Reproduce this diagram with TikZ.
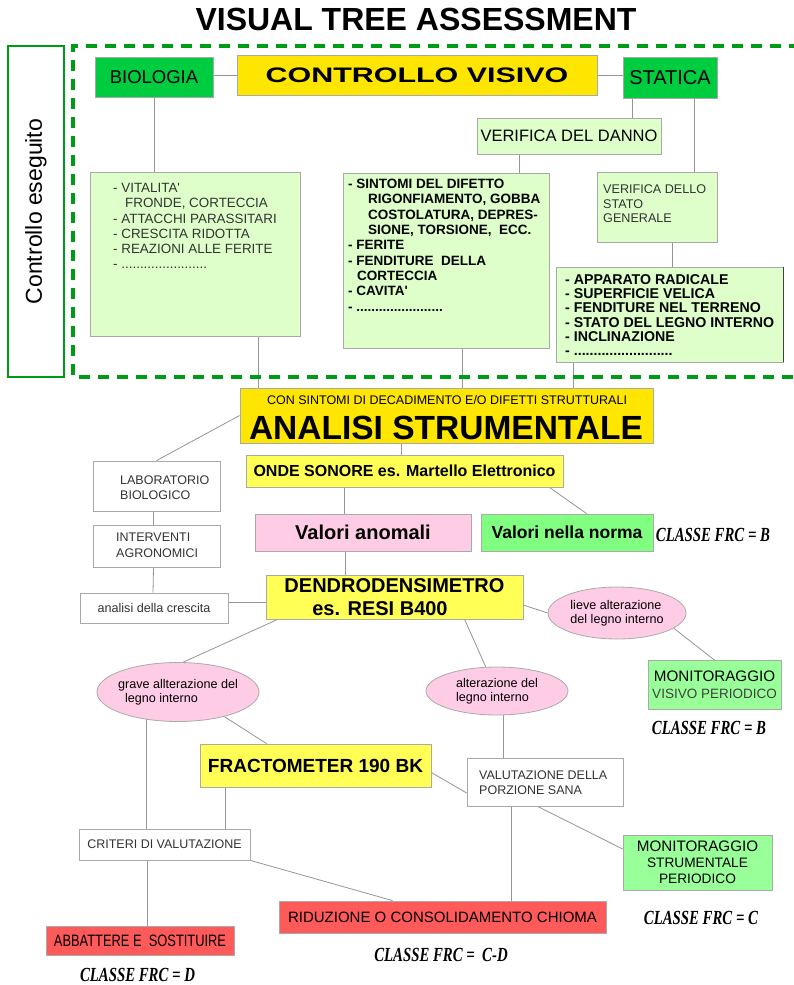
\documentclass[tikz,border=0pt]{standalone}
\usepackage{fontspec}
\setmainfont{Liberation Sans}
\newfontfamily\frcfont[FakeStretch=0.74]{Liberation Serif}
\newfontfamily\widefont[FakeStretch=1.45]{Liberation Sans}
\newfontfamily\narrowfont[FakeStretch=0.78]{Liberation Sans}
\usetikzlibrary{shapes.geometric,backgrounds}

\definecolor{ctrlgreen}{RGB}{0,155,20}
\definecolor{biogreen}{RGB}{0,204,64}
\definecolor{visyellow}{RGB}{255,230,0}
\definecolor{lightgreen}{RGB}{222,255,202}
\definecolor{ylw}{RGB}{255,255,85}
\definecolor{pinkfill}{RGB}{255,204,230}
\definecolor{normgreen}{RGB}{128,255,128}
\definecolor{mongreen}{RGB}{153,255,153}
\definecolor{redbox}{RGB}{255,90,90}
\definecolor{boxgray}{RGB}{170,170,170}
\definecolor{linegray}{RGB}{150,150,150}

\newcommand{\fsz}[2]{\fontsize{#1}{#2}\selectfont}

\begin{document}
\begin{tikzpicture}[x=1pt, y=-1pt,
    box/.style={draw=boxgray, line width=0.8pt, inner sep=0pt},
    oval/.style={ellipse, draw=boxgray, line width=0.8pt, fill=pinkfill, inner sep=0pt, align=left, font=\fsz{12.6}{14.5}},
    txt/.style={inner sep=0pt, anchor=north west, align=left},
    conn/.style={draw=linegray, line width=0.8pt},
    frc/.style={font=\frcfont\bfseries\itshape\fsz{20}{20}, inner sep=0pt}]
\useasboundingbox (0,0) rectangle (794,985);

\node[font=\bfseries\fsz{32}{32}] (title) at (416,19) {VISUAL TREE ASSESSMENT};

% controllo visivo
\node[box, draw=ctrlgreen, line width=2.2pt, minimum width=56pt, minimum height=331pt] (ctrl) at (36,211.5) {};
\node[rotate=90, font=\fsz{23}{23}] (ctrltxt) at (ctrl.center) {Controllo eseguito};
\draw[ctrlgreen, line width=3.5pt, dash pattern=on 11pt off 8pt] (800,46) -- (73,46) -- (73,377) -- (800,377);

\node[box, fill=biogreen, minimum width=118pt, minimum height=40pt, font=\fsz{18.5}{18.5}] (bio) at (154,77) {BIOLOGIA};
\node[box, fill=visyellow, minimum width=360pt, minimum height=40pt, font=\widefont\bfseries\fsz{21}{21}] (visivo) at (417,75) {CONTROLLO VISIVO};
\node[box, fill=biogreen, minimum width=94pt, minimum height=41pt, font=\fsz{20}{20}] (stat) at (670,77.5) {STATICA};
\node[box, fill=lightgreen, minimum width=184pt, minimum height=36pt, font=\fsz{16.5}{16.5}] (danno) at (569,136) {VERIFICA DEL DANNO};

\node[box, fill=lightgreen, minimum width=210pt, minimum height=164pt] (biolist) at (195,254) {};
\node[txt, font=\fsz{13.4}{15.3}, text=black!80] (biotxt) at (113,183)
  {- VITALITA\textquotesingle\\\hspace*{12pt}FRONDE, CORTECCIA\\- ATTACCHI PARASSITARI\\- CRESCITA RIDOTTA\\- REAZIONI ALLE FERITE\\- .......................};
\node[box, fill=lightgreen, minimum width=206pt, minimum height=175pt] (dannolist) at (446,260.5) {};
\node[txt, font=\bfseries\fsz{13.5}{15.3}] (dannotxt) at (348,179)
  {- SINTOMI DEL DIFETTO\\\hspace*{20pt}RIGONFIAMENTO, GOBBA\\\hspace*{20pt}COSTOLATURA, DEPRES-\\\hspace*{20pt}SIONE, TORSIONE,\ \ ECC.\\- FERITE\\- FENDITURE\ \ DELLA\\\hspace*{9pt}CORTECCIA\\- CAVITA\textquotesingle\\- .......................};
\node[box, fill=lightgreen, minimum width=120pt, minimum height=70pt] (stato) at (657,207) {};
\node[txt, font=\fsz{12.6}{14.5}, text=black!80] (statotxt) at (603,184.5) {VERIFICA DELLO\\STATO\\GENERALE};
\node[box, fill=lightgreen, minimum width=227pt, minimum height=95pt] (statolist) at (669.5,314.5) {};
\draw[black!75, line width=1.6pt] (statolist.north east) -- (statolist.south east);
\node[txt, font=\bfseries\fsz{14.2}{14.3}] (statolisttxt) at (565,274)
  {- APPARATO RADICALE\\- SUPERFICIE VELICA\\- FENDITURE NEL TERRENO\\- STATO DEL LEGNO INTERNO\\- INCLINAZIONE\\- .........................};

% analisi strumentale
\node[box, fill=visyellow, minimum width=413pt, minimum height=55pt] (analisi) at (446.5,415.5) {};
\node[font=\fsz{12.5}{12.5}, inner sep=0pt] (analisisub) at (447,400) {CON SINTOMI DI DECADIMENTO E/O DIFETTI STRUTTURALI};
\node[font=\bfseries\fsz{33.5}{33.5}, inner sep=0pt] (analisitxt) at (446,428) {ANALISI STRUMENTALE};

\node[box, fill=white, minimum width=127pt, minimum height=50pt] (lab) at (156.5,486) {};
\node[txt, anchor=west, font=\fsz{12.5}{15}, text=black!80] (labtxt) at (120,487.5) {LABORATORIO\\BIOLOGICO};
\node[box, fill=white, minimum width=127pt, minimum height=42pt] (interv) at (156.5,546) {};
\node[txt, anchor=west, font=\fsz{12.5}{16}, text=black!80] (intervtxt) at (116,545) {INTERVENTI\\AGRONOMICI};
\node[box, fill=white, minimum width=148pt, minimum height=30pt, font=\fsz{12.6}{12.6}, text=black!80] (cresc) at (154,608) {analisi della crescita};

\node[box, fill=ylw, minimum width=317pt, minimum height=32pt, font=\bfseries\fsz{16}{16}] (onde) at (404.5,471) {ONDE SONORE es. Martello Elettronico};
\node[box, fill=pinkfill, minimum width=216pt, minimum height=37pt, font=\bfseries\fsz{20}{20}] (anom) at (363,532.5) {Valori anomali};
\node[box, fill=normgreen, minimum width=172pt, minimum height=37pt, font=\bfseries\fsz{17.5}{17.5}] (norma) at (567,532.5) {Valori nella norma};
\node[box, fill=ylw, minimum width=257pt, minimum height=44pt, align=center, font=\bfseries\fsz{20}{22.5}] (dendro) at (394.5,597) {DENDRODENSIMETRO\\es. RESI B400\hspace*{29pt}};

\node[oval, minimum width=138pt, minimum height=52pt] (lieve) at (617,613) {lieve alterazione\\del legno interno};
\node[box, fill=mongreen, minimum width=133pt, minimum height=49pt, align=center, font=\fsz{15.2}{17}] (monv) at (714.5,685) {MONITORAGGIO\\{\fsz{13.5}{17}\color{black!75}VISIVO PERIODICO}};
\node[oval, inner xsep=-3pt, minimum width=162pt, minimum height=59pt] (grave) at (178,692) {grave allterazione del\\\hspace*{7pt}legno interno};
\node[oval, minimum width=142pt, minimum height=48pt] (alter) at (497,691) {alterazione del\\legno interno};

\node[box, fill=ylw, minimum width=231pt, minimum height=43pt, font=\bfseries\fsz{19}{19}] (fract) at (315.5,765.5) {FRACTOMETER 190 BK};
\node[box, fill=white, minimum width=156pt, minimum height=48pt] (valut) at (545,782) {};
\node[txt, anchor=west, font=\fsz{12.5}{15}, text=black!80] (valuttxt) at (479,782.5) {VALUTAZIONE DELLA\\PORZIONE SANA};
\node[box, fill=white, minimum width=171pt, minimum height=31pt, font=\fsz{12.5}{12.5}, text=black!80] (crit) at (164.5,844.5) {CRITERI DI VALUTAZIONE};
\node[box, fill=mongreen, minimum width=149pt, minimum height=55pt, align=center, font=\fsz{15.2}{16}] (mons) at (697.5,862.5) {MONITORAGGIO\\{\fsz{13.7}{16}STRUMENTALE}\\{\fsz{13.7}{16}PERIODICO}};
\node[box, fill=redbox, minimum width=188pt, minimum height=29pt, font=\narrowfont\fsz{16.5}{16.5}] (abb) at (140,940.5) {ABBATTERE E\ \ SOSTITUIRE};
\node[box, fill=redbox, minimum width=327pt, minimum height=32pt, font=\fsz{15}{15}] (rid) at (442.5,917) {RIDUZIONE O CONSOLIDAMENTO CHIOMA};

\foreach \n/\x/\y/\c in {b1/713/535/B, b2/709/728/B, c/701/918/C, cd/441/955/{\ C-D}, d/137.5/975/D}
  \node[frc] (frc\n) at (\x,\y) {CLASSE FRC = \c};

\begin{scope}[on background layer]
\fill[white] (0,0) rectangle (794,985);
\draw[conn] (bio.east |- visivo.west) -- (visivo.west);
\draw[conn] (visivo.east) -- (visivo.east -| stat.west);
\draw[conn] (bio.south) -- (bio.south |- biolist.north);
\draw[conn] ([xshift=10pt]stat.south west) -- ([xshift=10pt]stat.south west |- danno.north);
\draw[conn] ([xshift=72pt]stat.south west) -- ([xshift=72pt]stat.south west |- stato.north);
\draw[conn] ([xshift=43pt]danno.south west) -- ([xshift=43pt]danno.south west |- dannolist.north);
\draw[conn] ([xshift=76pt]stato.south west) -- ([xshift=76pt]stato.south west |- statolist.north);
\draw[conn] ([xshift=169pt]biolist.south west) -- ([xshift=169pt]biolist.south west |- analisi.north);
\draw[conn] ([xshift=120pt]dannolist.south west) -- ([xshift=120pt]dannolist.south west |- analisi.north);
\draw[conn] ([xshift=18pt]statolist.south west) -- ([xshift=18pt]statolist.south west |- analisi.north);
\draw[conn] (analisi.west) -- (lab.north);
\draw[conn] ([xshift=156pt]onde.north west) -- ([xshift=156pt]onde.north west |- analisi.south);
\draw[conn] ([xshift=99pt]onde.south west) -- ([xshift=99pt]onde.south west |- anom.north);
\draw[conn] ([xshift=-14pt]onde.south east) -- ([xshift=106pt]norma.north west);
\draw[conn] ([xshift=91pt]anom.south west) -- ([xshift=91pt]anom.south west |- dendro.north);
\draw[conn] ([xshift=-3pt]lab.south) -- ([xshift=-3pt]interv.north);
\draw[conn] ([xshift=-3pt]interv.south) -- ([xshift=-1pt]cresc.north);
\draw[conn] ([yshift=6pt]cresc.east) -- ([yshift=6pt]cresc.east -| dendro.west);
\draw[conn] ([yshift=-8pt]dendro.east) -- (lieve.west);
\draw[conn] (lieve.-15) -- (monv.north);
\draw[conn] ([xshift=12pt]dendro.south west) -- (grave.80);
\draw[conn] ([xshift=199pt]dendro.south west) -- (alter.115);
\draw[conn] (grave.-28) -- ([xshift=67pt]fract.north west);
\draw[conn] ([xshift=68pt]crit.north west) -- ([xshift=68pt]crit.north west |- grave.center);
\draw[conn] ([xshift=26pt]fract.south west) -- ([xshift=26pt]fract.south west |- crit.north);
\draw[conn] ([xshift=69pt]crit.south west) -- ([xshift=69pt]crit.south west |- abb.north);
\draw[conn] (crit.south east) -- ([xshift=114pt]rid.north west);
\draw[conn] ([xshift=37pt]valut.north west) -- ([xshift=37pt]valut.north west |- alter.center);
\draw[conn] ([yshift=-7pt]fract.east) -- ([yshift=-11pt]valut.west);
\draw[conn] ([xshift=45pt]valut.south west) -- ([xshift=45pt]valut.south west |- rid.north);
\draw[conn] ([xshift=71pt]valut.south west) -- ([yshift=13.5pt]mons.west);
\end{scope}
\end{tikzpicture}
\end{document}
